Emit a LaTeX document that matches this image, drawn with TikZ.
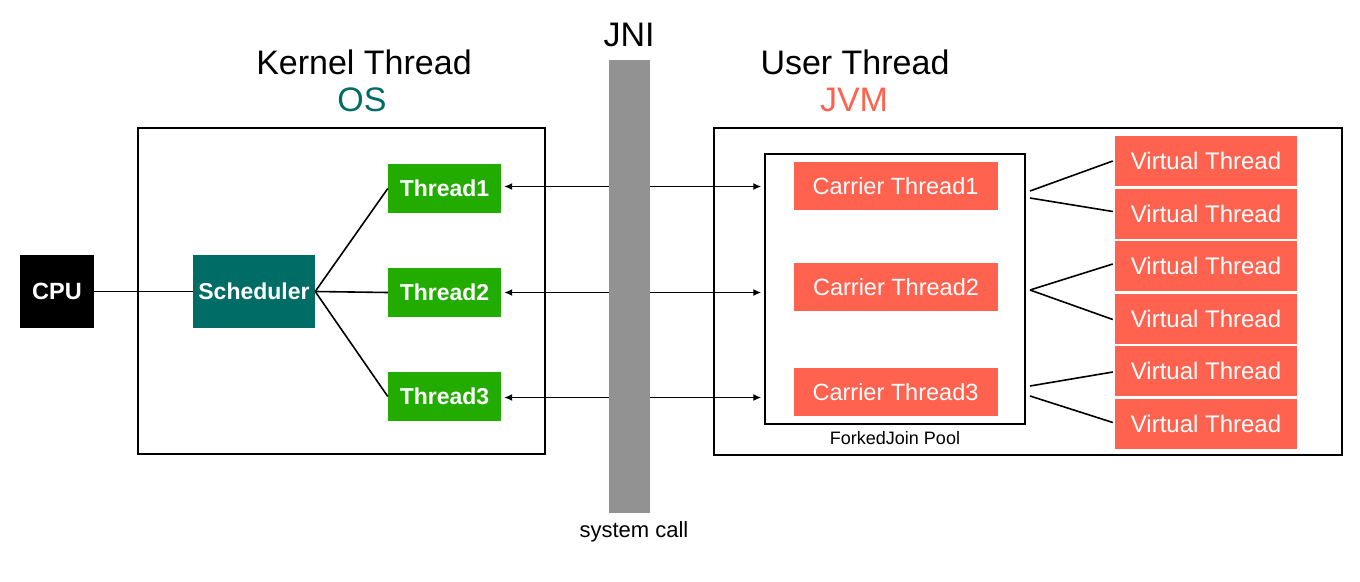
\documentclass[tikz,border=0pt]{standalone}
\usepackage{fontspec}
\setmainfont{Liberation Sans}
\usetikzlibrary{arrows.meta,calc}
\definecolor{osteal}{RGB}{0,108,102}
\definecolor{kgreen}{RGB}{34,172,0}
\definecolor{jvmred}{RGB}{255,99,80}
\definecolor{jnigray}{RGB}{146,146,146}
\tikzset{
  fs/.style={font=\fontsize{#1}{#1}\selectfont},
  blk/.style={draw=none,inner sep=0pt,text=white,minimum width=#1},
  cpubox/.style={blk=74pt,fill=black,minimum height=73pt,font=\fontsize{23.5}{23.5}\selectfont\bfseries},
  schedbox/.style={blk=122pt,fill=osteal,minimum height=73pt,font=\fontsize{23}{23}\selectfont\bfseries},
  kthread/.style={blk=113pt,fill=kgreen,minimum height=49pt,font=\fontsize{23}{23}\selectfont\bfseries},
  carrier/.style={blk=204pt,fill=jvmred,minimum height=48pt,font=\fontsize{23.5}{23.5}\selectfont},
  vthread/.style={blk=182pt,fill=jvmred,minimum height=50pt,font=\fontsize{24}{24}\selectfont},
  frame/.style={draw=black,line width=1.6pt,inner sep=0pt,fill=none},
  conn/.style={line width=1.6pt,draw=black},
  biarrow/.style={line width=1.4pt,{Latex[length=8pt,width=7pt]}-{Latex[length=8pt,width=7pt]}},
  title/.style={font=\fontsize{34}{34}\selectfont,inner sep=0pt},
}
\begin{document}
\begin{tikzpicture}[x=1pt,y=-1pt]
\useasboundingbox (0,0) rectangle (1360,581);
% frames
\node[frame,minimum width=407pt,minimum height=326pt] (kbox) at (341.5,291) {};
\node[frame,minimum width=628pt,minimum height=327pt] (ubox) at (1028,291.5) {};
\node[draw=black,line width=1.5pt,inner sep=0pt,minimum width=260pt,minimum height=270pt] (pool) at (895,289) {};
% titles
\node[title] (kt) at (364,62) {Kernel Thread};
\node[title,text=osteal] (os) at (362,100) {OS};
\node[title] (ut) at (855,62) {User Thread};
\node[title,text=jvmred] (jvm) at (854,100) {JVM};
\node[title] (jni) at (629,35) {JNI};
\node[fs=22,inner sep=0pt] (sc) at (634,532) {system call};
\node[fs=18,inner sep=0pt] (fj) at (895,438) {ForkedJoin Pool};
% kernel side
\node[cpubox] (cpu) at (57,291.5) {CPU};
\node[schedbox] (sched) at (254,291.5) {Scheduler};
\node[kthread] (t1) at (444.5,188.5) {Thread1};
\node[kthread] (t2) at (444.5,292.5) {Thread2};
\node[kthread] (t3) at (444.5,396.5) {Thread3};
\draw[conn] (cpu.east) -- (sched.west);
\draw[conn] (sched.east) -- (t1.west);
\draw[conn] (sched.east) -- (t2.west);
\draw[conn] (sched.east) -- (t3.west);
% user side
\node[carrier] (c1) at (895.5,186) {Carrier Thread1};
\node[carrier] (c2) at (896,287) {Carrier Thread2};
\node[carrier] (c3) at (895.5,392) {Carrier Thread3};
\node[vthread] (v1) at (1206,161) {Virtual Thread};
\node[vthread] (v2) at (1206,213.5) {Virtual Thread};
\node[vthread] (v3) at (1206,266) {Virtual Thread};
\node[vthread] (v4) at (1206,318.5) {Virtual Thread};
\node[vthread] (v5) at (1206,371) {Virtual Thread};
\node[vthread] (v6) at (1206,423.5) {Virtual Thread};
\coordinate (c1a) at (1030,191);
\coordinate (c1b) at (1030,198);
\coordinate (c2a) at (1030,290);
\coordinate (c3a) at (1030,386);
\coordinate (c3b) at (1030,396);
\draw[conn] (c1a) -- ($(v1.west)+(-2,0)$);
\draw[conn] (c1b) -- ($(v2.west)+(-2,-2)$);
\draw[conn] (c2a) -- ($(v3.west)+(-2,-2)$);
\draw[conn] (c2a) -- ($(v4.west)+(-2,1)$);
\draw[conn] (c3a) -- ($(v5.west)+(-2,1)$);
\draw[conn] (c3b) -- ($(v6.west)+(-2,-1)$);
% JNI arrows
\coordinate (p1) at (pool.west |- t1.east);
\coordinate (p2) at (pool.west |- t2.east);
\coordinate (p3) at (pool.west |- t3.east);
\draw[biarrow] ($(t1.east)+(3,-2)$) -- ($(p1)+(-3,-2)$);
\draw[biarrow] ($(t2.east)+(3,0)$) -- ($(p2)+(-3,0)$);
\draw[biarrow] ($(t3.east)+(3,1)$) -- ($(p3)+(-3,1)$);
% JNI bar
\node[fill=jnigray,draw=none,inner sep=0pt,minimum width=41pt,minimum height=453pt] (bar) at (629.5,286.5) {};
\end{tikzpicture}
\end{document}
